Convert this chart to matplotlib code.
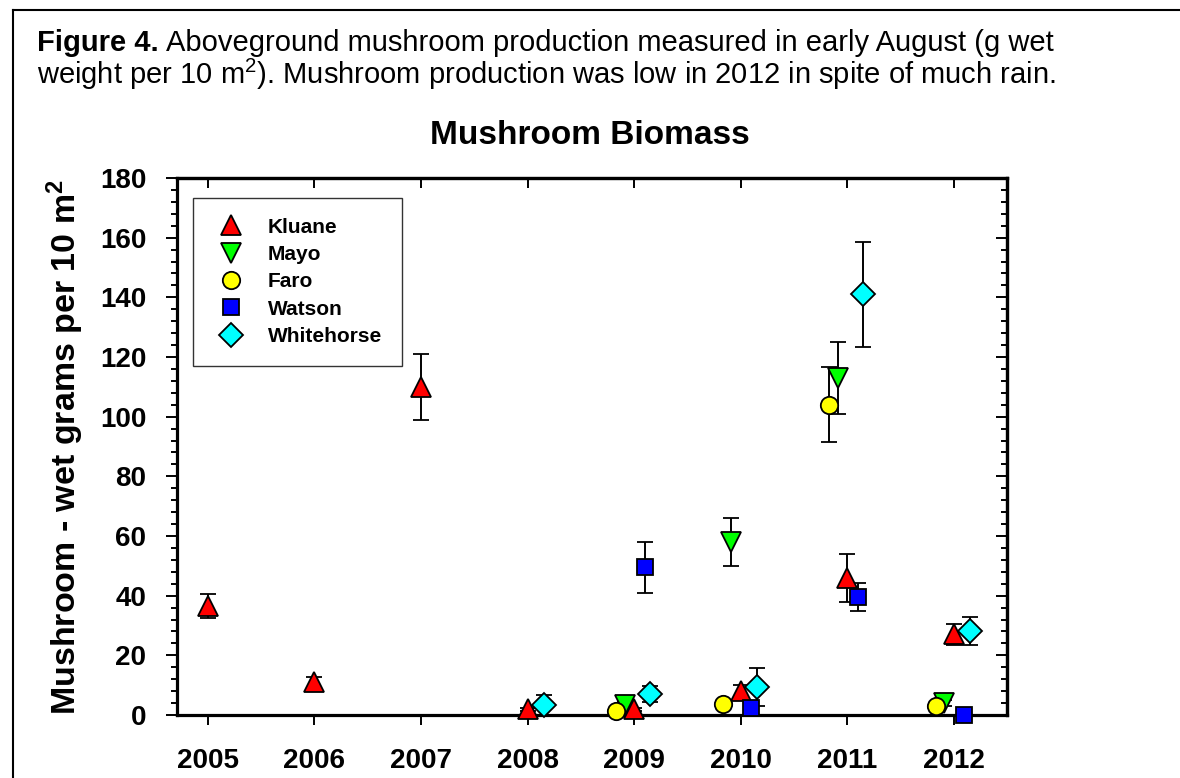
import matplotlib
matplotlib.use('Agg')
import matplotlib.pyplot as plt
from matplotlib.lines import Line2D
import numpy as np

plt.rcParams['font.family'] = ['Liberation Sans', 'DejaVu Sans']
plt.rcParams['mathtext.fontset'] = 'custom'
plt.rcParams['mathtext.rm'] = 'Liberation Sans'
plt.rcParams['mathtext.default'] = 'regular'

# data (mean, +/- error)
years = [2005, 2006, 2007, 2008, 2009, 2010, 2011, 2012]
sites = ['Kluane', 'Mayo', 'Faro', 'Watson', 'Whitehorse']

kluane_years = [2005, 2006, 2007, 2008, 2009, 2010, 2011, 2012]
kluane_mean = [36.5, 11, 110, 2, 2, 8, 46, 27]
kluane_err = [4, 1.7, 11, 0.5, 0.5, 2, 8, 3.5]

mayo_years = [2009, 2010, 2011, 2012]
mayo_mean = [3.5, 58, 113, 4]
mayo_err = [1, 8, 12, 1]

faro_years = [2009, 2010, 2011, 2012]
faro_mean = [1.5, 3.7, 104, 3]
faro_err = [0.5, 0.5, 12.5, 0.5]

watson_years = [2009, 2010, 2011, 2012]
watson_mean = [49.5, 2.3, 39.5, 0]
watson_err = [8.5, 1, 4.7, 0]

whitehorse_years = [2008, 2009, 2010, 2011, 2012]
whitehorse_mean = [3.4, 7, 9.4, 141, 28.3]
whitehorse_err = [3.3, 2.7, 6.5, 17.5, 4.7]

series = [
    ('Kluane', kluane_years, kluane_mean, kluane_err, '^', 'red', 0.0, 14),
    ('Mayo', mayo_years, mayo_mean, mayo_err, 'v', 'lime', -0.09, 14),
    ('Faro', faro_years, faro_mean, faro_err, 'o', 'yellow', -0.17, 12.5),
    ('Watson', watson_years, watson_mean, watson_err, 's', 'blue', 0.1, 12),
    ('Whitehorse', whitehorse_years, whitehorse_mean, whitehorse_err, 'D', 'cyan', 0.15, 12),
]

fig = plt.figure(figsize=(11.8, 7.78), dpi=100)
ax = fig.add_axes([0.15, 0.081, 0.7034, 0.6902])

handles = []
for name, yr, m, e, mk, col, off, ms in series:
    x = np.array(yr) + off
    ax.errorbar(x, m, yerr=e, fmt=mk, ms=ms, mfc=col, mec='black', mew=1.3,
                ecolor='black', elinewidth=1.4, capsize=6, capthick=1.4,
                clip_on=False, zorder=3)
    handles.append(Line2D([], [], ls='none', marker=mk, ms=ms, mfc=col,
                          mec='black', mew=1.3, label=name))

ax.set_xlim(2004.71, 2012.5)
ax.set_ylim(0, 180)
ax.set_xticks(years)
ax.set_xticklabels([str(y) for y in years], fontsize=20, fontweight='bold')
ax.set_yticks(np.arange(0, 181, 20))
ax.set_yticks(np.arange(0, 181, 4), minor=True)
ax.tick_params(axis='y', which='major', direction='out', length=8, width=1.4,
               labelsize=20, pad=14)
ax.tick_params(axis='y', which='minor', direction='out', length=4.5, width=1.4)
ax.tick_params(axis='x', which='major', direction='out', length=7, width=1.4,
               labelsize=20, pad=17)
for lab in ax.get_yticklabels():
    lab.set_fontweight('bold')
for s in ax.spines.values():
    s.set_linewidth(2.3)

# right and top: ticks pointing inward, no labels
ry = ax.secondary_yaxis('right')
ry.set_yticks(np.arange(0, 181, 20))
ry.set_yticks(np.arange(0, 181, 4), minor=True)
ry.tick_params(which='major', direction='in', length=8, width=1.4, labelright=False)
ry.tick_params(which='minor', direction='in', length=4.5, width=1.4)
ry.spines['right'].set_linewidth(2.3)
tx = ax.secondary_xaxis('top')
tx.set_xticks(years)
tx.tick_params(direction='in', length=7, width=1.4, labeltop=False)
tx.spines['top'].set_linewidth(2.3)

ax.set_ylabel('Mushroom - wet grams per 10 m$^2$', fontsize=24.5,
              fontweight='bold', labelpad=10)

leg = ax.legend(handles=handles, loc='upper left', bbox_to_anchor=(0.019, 0.963),
                borderaxespad=0, frameon=True, fancybox=False, edgecolor='black',
                prop={'weight': 'bold', 'size': 15}, handlelength=1.8,
                handletextpad=0.85, borderpad=0.95, labelspacing=0.4)
leg.get_frame().set_linewidth(1.0)

fig.text(0.5, 1 - 135 / 778, 'Mushroom Biomass', ha='center', va='center',
         fontsize=24, fontweight='bold')

# caption
t1 = fig.text(37 / 1180, 1 - 51 / 778, 'Figure 4.', fontsize=21,
              fontweight='bold', va='baseline')
fig.canvas.draw()
bb = t1.get_window_extent()
fig.text(bb.x1 / 1180 + 7 / 1180, 1 - 51 / 778,
         'Aboveground mushroom production measured in early August (g wet',
         fontsize=21, va='baseline')
fig.text(37 / 1180, 1 - 84 / 778,
         'weight per 10 m$^{2}$). Mushroom production was low in 2012 in spite of much rain.',
         fontsize=21, va='baseline')

# frame around the figure panel
fig.add_artist(Line2D([13 / 1180, 1.0], [1 - 10 / 778, 1 - 10 / 778],
                      transform=fig.transFigure, color='black', lw=1.5))
fig.add_artist(Line2D([13 / 1180, 13 / 1180], [0, 1 - 10 / 778],
                      transform=fig.transFigure, color='black', lw=1.5))

fig.savefig('out.png', dpi=100)
